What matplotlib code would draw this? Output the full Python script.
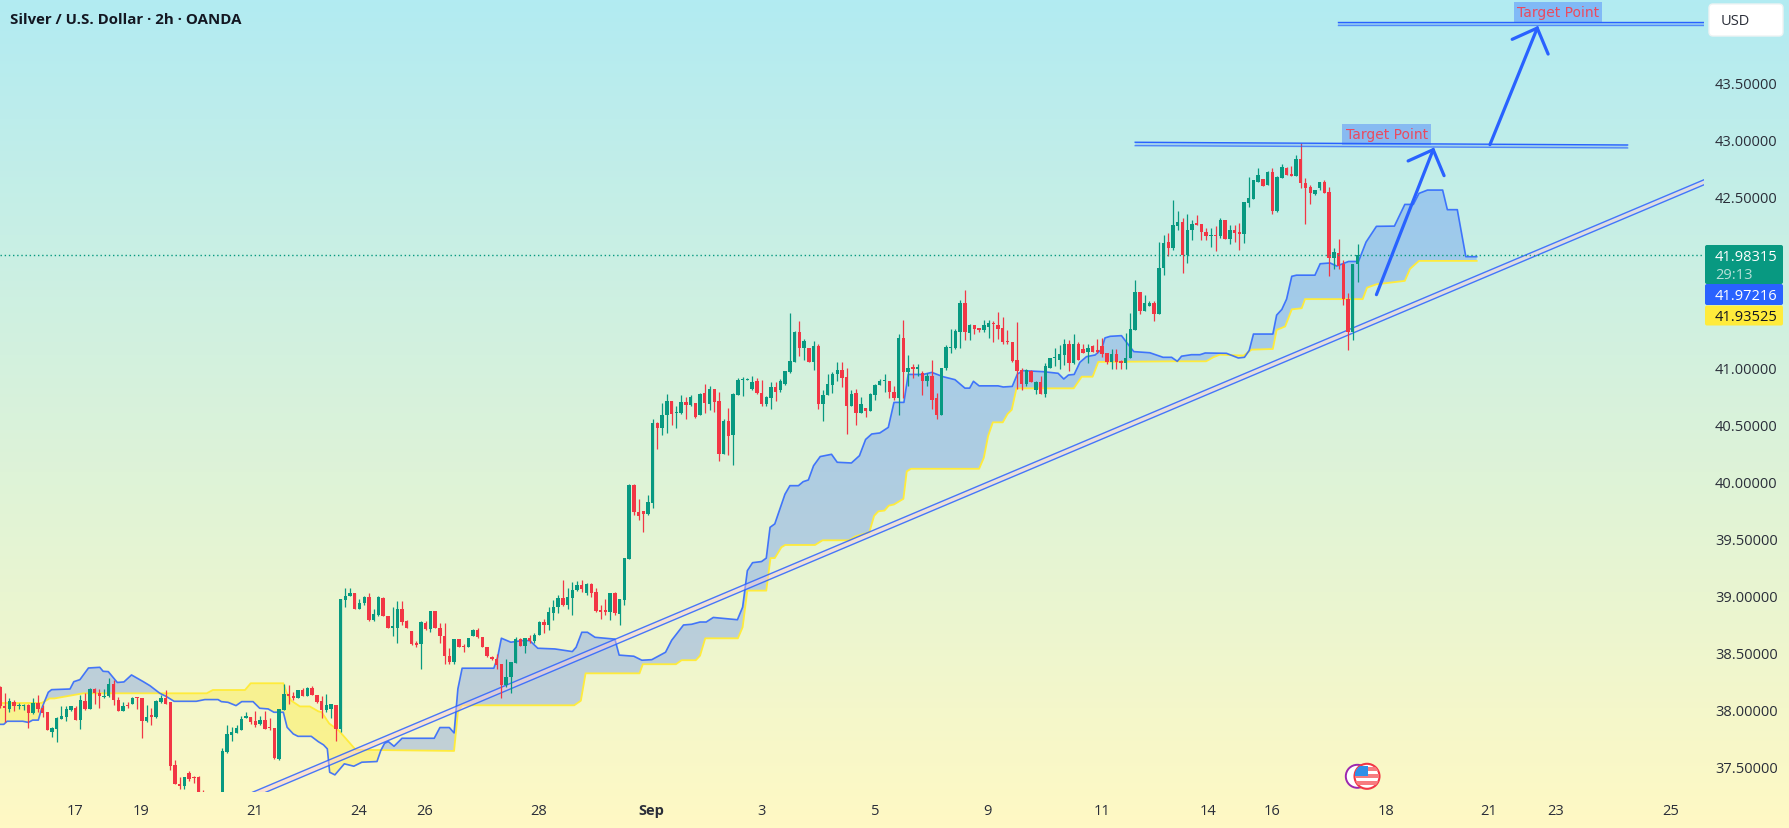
import numpy as np
import matplotlib
matplotlib.use('Agg')
import matplotlib.pyplot as plt
from matplotlib.patches import Circle, FancyBboxPatch, Rectangle

plt.rcParams['font.family'] = ['Open Sans', 'DejaVu Sans']

# 2h candles, one entry per bar
opens = [
    38.20, 38.03, 38.01, 38.07, 38.03, 38.03, 38.04, 37.97, 38.06, 38.02,
    37.98, 37.81, 37.83, 37.92, 37.94, 38.00, 38.02, 37.91, 38.08, 38.01,
    38.18, 38.15, 38.11, 38.12, 38.23, 38.09, 37.99, 38.04, 38.05, 38.11,
    38.10, 37.90, 37.95, 37.94, 38.07, 38.10, 38.07, 37.52, 37.35, 37.33,
    37.45, 37.41, 37.41, 37.24, 37.15, 37.10, 37.12, 37.10, 37.63, 37.78,
    37.80, 37.82, 37.93, 37.94, 37.90, 37.88, 37.91, 37.85, 37.84, 37.57,
    38.00, 38.14, 38.12, 38.10, 38.17, 38.12, 38.19, 38.13, 38.08, 38.00,
    38.01, 38.04, 37.83, 38.96, 39.00, 39.02, 38.88, 38.94, 38.99, 38.79,
    38.83, 38.98, 38.82, 38.72, 38.72, 38.88, 38.78, 38.69, 38.59, 38.58,
    38.76, 38.71, 38.87, 38.72, 38.65, 38.47, 38.42, 38.62, 38.56, 38.55,
    38.65, 38.70, 38.64, 38.55, 38.46, 38.45, 38.40, 38.22, 38.29, 38.41,
    38.62, 38.56, 38.63, 38.60, 38.66, 38.77, 38.74, 38.85, 38.90, 38.98,
    38.92, 38.98, 39.05, 39.09, 39.02, 39.10, 39.03, 38.87, 38.87, 38.86,
    39.02, 38.84, 38.96, 39.32, 39.97, 39.73, 39.74, 39.72, 39.81, 40.51,
    40.47, 40.58, 40.71, 40.60, 40.60, 40.70, 40.67, 40.69, 40.58, 40.78,
    40.68, 40.81, 40.71, 40.24, 40.53, 40.41, 40.76, 40.89, 40.89, 40.81,
    40.88, 40.78, 40.68, 40.73, 40.83, 40.80, 40.86, 40.96, 41.05, 41.31,
    41.17, 41.17, 41.05, 41.19, 40.68, 40.76, 40.85, 40.94, 40.98, 40.92,
    40.66, 40.78, 40.60, 40.65, 40.62, 40.76, 40.85, 40.88, 40.88, 40.79,
    40.73, 41.26, 40.96, 41.00, 40.99, 40.95, 40.88, 40.93, 40.73, 40.58,
    41.00, 41.17, 41.17, 41.31, 41.57, 41.30, 41.37, 41.34, 41.33, 41.36,
    41.39, 41.37, 41.35, 41.23, 41.22, 41.07, 40.98, 40.86, 40.97, 40.80,
    40.87, 40.77, 41.00, 41.08, 41.07, 41.11, 41.21, 41.04, 41.21, 41.16,
    41.14, 41.19, 41.15, 41.19, 41.13, 41.05, 41.12, 41.05, 41.04, 41.08,
    41.33, 41.66, 41.50, 41.54, 41.57, 41.47, 41.87, 42.10, 42.05, 42.24,
    42.28, 41.99, 42.21, 42.26, 42.26, 42.19, 42.15, 42.16, 42.15, 42.29,
    42.13, 42.21, 42.18, 42.17, 42.44, 42.48, 42.63, 42.65, 42.60, 42.71,
    42.37, 42.66, 42.75, 42.69, 42.68, 42.83, 42.62, 42.58, 42.52, 42.57,
    42.63, 42.54, 41.96, 42.00, 41.91, 41.60, 41.31, 41.91,
]
highs = [
    38.21, 38.15, 38.10, 38.09, 38.06, 38.05, 38.05, 38.10, 38.13, 38.04,
    37.98, 37.85, 37.94, 38.03, 38.03, 38.03, 38.03, 38.13, 38.15, 38.19,
    38.19, 38.18, 38.18, 38.28, 38.26, 38.11, 38.07, 38.07, 38.11, 38.11,
    38.10, 38.04, 38.02, 38.09, 38.13, 38.17, 38.07, 37.56, 37.41, 37.41,
    37.46, 37.42, 37.42, 37.30, 37.22, 37.18, 37.20, 37.67, 37.87, 37.85,
    37.87, 37.95, 37.98, 37.94, 37.99, 37.95, 37.99, 37.93, 37.84, 38.01,
    38.23, 38.22, 38.16, 38.17, 38.19, 38.20, 38.21, 38.13, 38.12, 38.14,
    38.05, 38.04, 38.97, 39.07, 39.07, 39.02, 38.97, 39.00, 39.02, 38.88,
    39.00, 38.99, 38.82, 38.90, 38.95, 38.95, 38.79, 38.69, 38.60, 38.78,
    38.78, 38.87, 38.87, 38.76, 38.76, 38.54, 38.62, 38.62, 38.58, 38.63,
    38.71, 38.72, 38.64, 38.55, 38.47, 38.49, 38.40, 38.45, 38.42, 38.64,
    38.63, 38.63, 38.66, 38.67, 38.78, 38.80, 38.90, 38.96, 39.01, 39.14,
    39.07, 39.12, 39.13, 39.14, 39.11, 39.11, 39.07, 38.92, 38.97, 39.02,
    39.03, 38.97, 39.33, 39.98, 39.98, 39.85, 39.74, 39.88, 40.55, 40.52,
    40.69, 40.77, 40.71, 40.66, 40.76, 40.74, 40.76, 40.69, 40.78, 40.86,
    40.84, 40.81, 40.79, 40.55, 40.65, 40.78, 40.91, 40.92, 40.91, 40.93,
    40.91, 40.89, 40.75, 40.87, 40.87, 40.90, 40.97, 41.48, 41.32, 41.41,
    41.25, 41.17, 41.23, 41.21, 40.80, 40.94, 40.96, 41.05, 41.05, 41.00,
    40.80, 40.81, 40.74, 40.65, 40.78, 40.86, 40.90, 40.94, 40.88, 40.84,
    41.29, 41.42, 41.11, 41.03, 41.03, 40.97, 40.95, 41.07, 40.78, 41.00,
    41.20, 41.34, 41.34, 41.59, 41.68, 41.38, 41.37, 41.35, 41.42, 41.42,
    41.41, 41.49, 41.44, 41.33, 41.22, 41.40, 41.00, 40.99, 40.98, 40.88,
    40.93, 41.04, 41.08, 41.17, 41.20, 41.25, 41.24, 41.29, 41.22, 41.21,
    41.21, 41.20, 41.25, 41.26, 41.13, 41.16, 41.16, 41.07, 41.30, 41.48,
    41.77, 41.66, 41.64, 41.58, 41.58, 42.10, 42.16, 42.18, 42.47, 42.37,
    42.31, 42.35, 42.29, 42.34, 42.26, 42.22, 42.22, 42.24, 42.31, 42.29,
    42.25, 42.25, 42.27, 42.45, 42.67, 42.64, 42.75, 42.65, 42.72, 42.75,
    42.68, 42.78, 42.76, 42.77, 42.86, 42.97, 42.66, 42.60, 42.56, 42.63,
    42.64, 42.58, 42.05, 42.13, 41.94, 41.65, 41.91, 42.08,
]
lows = [
    38.02, 37.89, 37.98, 37.99, 38.01, 38.00, 37.84, 37.96, 37.98, 37.94,
    37.82, 37.76, 37.72, 37.92, 37.90, 37.99, 37.91, 37.83, 38.00, 38.01,
    38.05, 38.02, 38.10, 38.11, 38.04, 37.99, 37.99, 38.02, 38.05, 38.01,
    37.75, 37.89, 37.87, 37.93, 38.06, 38.05, 37.47, 37.35, 37.31, 37.31,
    37.38, 37.36, 37.20, 37.10, 37.05, 37.02, 37.05, 37.10, 37.62, 37.73,
    37.80, 37.82, 37.93, 37.88, 37.85, 37.87, 37.83, 37.82, 37.57, 37.56,
    38.00, 38.05, 38.09, 38.10, 38.12, 38.12, 38.13, 38.06, 37.93, 37.98,
    37.93, 37.73, 37.81, 38.90, 39.00, 38.88, 38.88, 38.92, 38.78, 38.78,
    38.82, 38.82, 38.72, 38.65, 38.59, 38.74, 38.72, 38.57, 38.55, 38.36,
    38.70, 38.68, 38.72, 38.59, 38.40, 38.40, 38.40, 38.55, 38.51, 38.55,
    38.65, 38.63, 38.55, 38.46, 38.44, 38.36, 38.10, 38.20, 38.15, 38.41,
    38.56, 38.50, 38.59, 38.59, 38.66, 38.67, 38.70, 38.79, 38.85, 38.91,
    38.88, 38.83, 39.04, 39.03, 39.01, 38.99, 38.86, 38.80, 38.83, 38.79,
    38.83, 38.74, 38.92, 39.32, 39.71, 39.66, 39.56, 39.71, 39.77, 40.29,
    40.41, 40.43, 40.50, 40.47, 40.59, 40.55, 40.66, 40.56, 40.58, 40.60,
    40.63, 40.61, 40.18, 40.24, 40.23, 40.15, 40.76, 40.75, 40.89, 40.80,
    40.77, 40.66, 40.66, 40.64, 40.71, 40.79, 40.85, 40.95, 41.05, 41.10,
    41.07, 41.05, 40.98, 40.64, 40.53, 40.76, 40.78, 40.88, 40.83, 40.42,
    40.66, 40.50, 40.60, 40.57, 40.62, 40.72, 40.85, 40.79, 40.73, 40.72,
    40.58, 40.73, 40.84, 40.91, 40.93, 40.76, 40.84, 40.64, 40.55, 40.58,
    40.98, 41.13, 41.16, 41.17, 41.24, 41.24, 41.29, 41.31, 41.31, 41.26,
    41.22, 41.25, 41.21, 41.21, 41.05, 40.81, 40.80, 40.84, 40.87, 40.77,
    40.77, 40.74, 41.00, 41.01, 40.99, 41.02, 40.97, 41.03, 41.07, 41.13,
    41.04, 41.14, 41.13, 41.09, 41.03, 40.99, 40.99, 40.99, 40.99, 41.08,
    41.33, 41.47, 41.50, 41.54, 41.41, 41.47, 41.81, 41.98, 42.03, 42.21,
    41.83, 41.92, 42.12, 42.25, 42.12, 42.12, 42.06, 42.02, 42.14, 42.13,
    42.08, 42.10, 42.03, 42.09, 42.41, 42.48, 42.63, 42.59, 42.60, 42.35,
    42.36, 42.66, 42.69, 42.68, 42.68, 42.57, 42.26, 42.43, 42.51, 42.56,
    42.53, 41.80, 41.86, 41.86, 41.55, 41.15, 41.24, 41.75,
]
closes = [
    38.03, 38.02, 38.08, 38.03, 38.04, 38.04, 37.97, 38.06, 38.01, 37.97,
    37.82, 37.84, 37.93, 37.95, 38.01, 38.03, 37.91, 38.09, 38.01, 38.18,
    38.15, 38.12, 38.12, 38.23, 38.09, 37.99, 38.03, 38.03, 38.10, 38.10,
    37.90, 37.94, 37.94, 38.08, 38.10, 38.05, 37.51, 37.35, 37.33, 37.41,
    37.39, 37.40, 37.20, 37.15, 37.10, 37.12, 37.10, 37.64, 37.79, 37.81,
    37.84, 37.92, 37.94, 37.89, 37.87, 37.91, 37.83, 37.84, 37.58, 38.01,
    38.14, 38.12, 38.10, 38.17, 38.12, 38.19, 38.13, 38.07, 38.00, 38.04,
    38.05, 37.83, 38.97, 39.00, 39.02, 38.88, 38.94, 38.99, 38.79, 38.84,
    38.99, 38.82, 38.72, 38.73, 38.88, 38.77, 38.72, 38.58, 38.57, 38.77,
    38.71, 38.87, 38.72, 38.65, 38.47, 38.42, 38.62, 38.55, 38.55, 38.63,
    38.70, 38.64, 38.55, 38.47, 38.45, 38.39, 38.22, 38.29, 38.42, 38.62,
    38.56, 38.63, 38.60, 38.66, 38.77, 38.74, 38.86, 38.90, 38.98, 38.92,
    38.99, 39.05, 39.09, 39.06, 39.10, 39.02, 38.87, 38.86, 38.86, 39.02,
    38.85, 38.97, 39.33, 39.97, 39.73, 39.70, 39.72, 39.82, 40.51, 40.47,
    40.58, 40.71, 40.59, 40.61, 40.70, 40.67, 40.74, 40.57, 40.77, 40.69,
    40.81, 40.70, 40.24, 40.53, 40.40, 40.77, 40.89, 40.90, 40.90, 40.87,
    40.78, 40.68, 40.74, 40.83, 40.79, 40.88, 40.97, 41.06, 41.31, 41.17,
    41.23, 41.05, 41.19, 40.68, 40.76, 40.86, 40.94, 40.98, 40.91, 40.66,
    40.77, 40.60, 40.68, 40.62, 40.77, 40.85, 40.88, 40.88, 40.79, 40.73,
    41.26, 40.96, 41.00, 40.99, 41.00, 40.88, 40.93, 40.72, 40.58, 41.00,
    41.18, 41.18, 41.32, 41.57, 41.31, 41.37, 41.34, 41.33, 41.37, 41.39,
    41.38, 41.34, 41.22, 41.22, 41.06, 40.97, 40.86, 40.98, 40.87, 40.87,
    40.77, 41.01, 41.08, 41.08, 41.12, 41.21, 41.04, 41.21, 41.07, 41.13,
    41.17, 41.14, 41.14, 41.12, 41.05, 41.12, 41.05, 41.04, 41.08, 41.34,
    41.66, 41.50, 41.57, 41.57, 41.47, 41.87, 42.09, 42.05, 42.25, 42.28,
    41.99, 42.21, 42.26, 42.25, 42.19, 42.15, 42.16, 42.15, 42.29, 42.13,
    42.21, 42.18, 42.17, 42.45, 42.49, 42.64, 42.69, 42.59, 42.71, 42.37,
    42.67, 42.76, 42.69, 42.68, 42.83, 42.62, 42.57, 42.53, 42.56, 42.63,
    42.53, 41.96, 42.01, 41.89, 41.60, 41.31, 41.91, 41.98315,
]

# ichimoku cloud spans, (bar, price) vertices
span_a_x = [
    0, 0.8, 1.5, 4.8, 6, 6.9, 8.1, 8.8, 10.2, 10.9, 14.8, 15.6, 16.9, 18.7, 21.1,
    21.8, 22.9, 24.8, 26.2, 27.8, 30.3, 31.7, 33.8, 35.2, 36.8, 41.5, 43.3, 46.1,
    46.8, 48.2, 49.9, 51.1, 53.5, 54.9, 56.7, 57.9, 59.9, 60.7, 62, 63, 65.8, 67.3,
    68.4, 69.2, 69.7, 70.8, 72.8, 74.8, 76.5, 79.7, 80.5, 81.3, 82.1, 83.3, 85,
    91.8, 93, 95, 96, 96.8, 97.7, 104.4, 105.2, 106, 108, 110.4, 112, 113.7, 117.3,
    121, 121.8, 123, 124.2, 125.8, 130, 130.9, 134, 135.7, 137.8, 140.7, 142, 144.5,
    146.2, 148, 149.3, 150.8, 155.9, 157, 157.5, 158, 159.1, 161, 162, 162.8, 163.8,
    165.95, 167, 168.8, 169.8, 170.9, 172, 173.4, 175.8, 177, 180, 181.7, 183, 184.3,
    186, 187.8, 189, 191.1, 192, 195.2, 197, 199.4, 201.9, 204, 205, 205.8, 207, 211,
    212.1, 214, 215.1, 216.3, 220.6, 223.7, 224.9, 225.9, 227.1, 228.3, 229.7, 231.5,
    232.9, 233.6, 234.7, 237.1, 238.2, 239.7, 243.1, 245.9, 247.7, 248.9, 249.8, 251.9,
    253.7, 254.8, 259.3, 261.8, 263.1, 264.1, 265, 269.1, 269.9, 271, 272, 273.1, 274.1,
    278, 279.1, 281.2, 282.6, 285.1, 287.2, 288.8, 291, 294.8, 297, 298.8, 300, 301.8,
    305, 306, 308.1, 309.9, 312.2,
]
span_a_y = [
    37.873, 37.873, 37.90, 37.90, 37.89, 37.91, 37.91, 38.01, 38.154, 38.177, 38.183,
    38.247, 38.265, 38.367, 38.373, 38.338, 38.335, 38.24, 38.245, 38.306, 38.247,
    38.212, 38.145, 38.116, 38.075, 38.075, 38.09, 38.09, 38.072, 38.066, 38.037,
    38.072, 38.072, 38.014, 38.008, 37.979, 37.979, 37.847, 37.789, 37.768, 37.768,
    37.721, 37.693, 37.658, 37.453, 37.43, 37.527, 37.506, 37.541, 37.547, 37.643,
    37.707, 37.722, 37.681, 37.751, 37.751, 37.845, 37.845, 37.798, 38.184, 38.365,
    38.365, 38.461, 38.628, 38.593, 38.607, 38.607, 38.54, 38.534, 38.511, 38.549,
    38.68, 38.68, 38.636, 38.62, 38.48, 38.47, 38.435, 38.44, 38.505, 38.61, 38.744,
    38.75, 38.77, 38.77, 38.81, 38.79, 38.90, 39.06, 39.22, 39.29, 39.30, 39.33, 39.6,
    39.63, 39.89, 39.965, 39.965, 40.0, 40.015, 40.14, 40.22, 40.24, 40.17, 40.164,
    40.228, 40.37, 40.418, 40.427, 40.476, 40.695, 40.695, 40.94, 40.94, 40.958, 40.92,
    40.894, 40.82, 40.82, 40.88, 40.84, 40.84, 40.83, 40.835, 40.944, 40.973, 40.964,
    40.95, 40.90, 40.935, 40.94, 41.046, 41.096, 41.11, 41.16, 41.26, 41.274, 41.28,
    41.22, 41.14, 41.13, 41.09, 41.09, 41.055, 41.10, 41.113, 41.113, 41.128, 41.125,
    41.084, 41.09, 41.15, 41.294, 41.294, 41.46, 41.51, 41.60, 41.80, 41.81, 41.81,
    41.91, 41.917, 41.89, 41.93, 41.93, 42.10, 42.238, 42.24, 42.43, 42.43, 42.527,
    42.556, 42.556, 42.384, 42.384, 41.97216, 41.97216,
]
span_b_x = [
    0, 8.8, 10.5, 11.5, 17.6, 43.7, 45, 51.8, 53, 59.9, 60.6, 61.6, 63.4, 65.5, 67.3,
    68, 69.6, 71.6, 75.2, 96, 96.8, 97.7, 121.4, 122.8, 123.8, 135.2, 135.9, 142.9,
    144.1, 147.1, 148, 149.1, 156, 157, 158, 162, 162.9, 163.8, 165.2, 166, 172.3,
    173.9, 179.5, 180.8, 183.8, 184.8, 185.7, 187, 187.9, 189, 191, 191.7, 192.6, 207,
    208, 208.9, 209.9, 212, 213, 213.9, 214.9, 227, 228.7, 231, 232.2, 248.8, 255,
    256.5, 257.9, 262.9, 264.6, 269.1, 269.9, 271.7, 273.1, 275.2, 275.9, 288.1, 289,
    291, 297, 298.1, 300, 312.2,
]
span_b_y = [
    38.06, 38.06, 38.10, 38.10, 38.145, 38.145, 38.174, 38.174, 38.233, 38.233, 38.15,
    38.08, 38.03, 38.03, 37.987, 37.98, 37.88, 37.82, 37.65, 37.64, 37.98, 38.04, 38.04,
    38.08, 38.32, 38.32, 38.40, 38.40, 38.435, 38.435, 38.475, 38.627, 38.627, 38.724,
    39.045, 39.045, 39.33, 39.33, 39.425, 39.445, 39.445, 39.486, 39.486, 39.52, 39.557,
    39.70, 39.74, 39.747, 39.79, 39.80, 39.85, 40.09, 40.113, 40.113, 40.21, 40.40,
    40.52, 40.52, 40.593, 40.63, 40.818, 40.818, 40.92, 40.92, 41.05, 41.055, 41.055,
    41.09, 41.113, 41.105, 41.157, 41.163, 41.33, 41.36, 41.51, 41.52, 41.60, 41.60,
    41.70, 41.73, 41.76, 41.865, 41.93525, 41.93525,
]

# hand drawn annotations, (bar, price)
trend_upper_x = [53.4, 360.3]
trend_upper_y = [37.278, 42.647]
trend_lower_x = [56.2, 360.3]
trend_lower_y = [37.278, 42.603]
target1_x = [240, 344.1]
target1_upper = [42.975, 42.951]
target1_lower = [42.945, 42.925]
target2_x = [282.9, 360.2]
target2_upper = [44.026, 44.026]
target2_lower = [44.003, 44.003]
arrow1_shaft = ([291.0, 303.0], [41.639, 42.91])
arrow1_head = ([297.7, 303.0, 305.3], [42.811, 42.91, 42.682])
arrow2_shaft = ([315.0, 325.0], [42.954, 43.976])
arrow2_head = ([319.7, 325.0, 327.3], [43.877, 43.976, 43.748])

last_price = 41.98315
y_ticks = [37.5, 38.0, 38.5, 39.0, 39.5, 40.0, 40.5, 41.0, 41.5, 42.0, 42.5, 43.0, 43.5]
x_tick_pos = [15.9, 29.9, 53.8, 75.9, 89.8, 113.9, 137.7, 160.9, 185, 208.7, 233, 255.5,
              269, 293, 314.8, 328.8, 353.2]
x_tick_labels = ['17', '19', '21', '24', '26', '28', 'Sep', '3', '5', '9', '11', '14',
                 '16', '18', '21', '23', '25']

GREEN = '#089981'
RED = '#f23645'
BLUE = '#2962ff'
YELLOW = '#ffeb3b'
TEXT = '#2a2e39'

W, H = 1789, 829
fig = plt.figure(figsize=(W / 100, H / 100), dpi=100)

# page background, cyan fading to pale yellow
bg = fig.add_axes([0, 0, 1, 1], zorder=0)
grad = np.linspace(0, 1, 256).reshape(-1, 1, 1)
top = np.array([178, 235, 242]) / 255
bottom = np.array([255, 249, 196]) / 255
bg.imshow(top + (bottom - top) * grad, aspect='auto', extent=[0, 1, 0, 1])
bg.axis('off')

ax = fig.add_axes([0, 36 / H, 1704 / W, 793 / H], zorder=1)
ax.patch.set_alpha(0)
ax.set_xlim(0, 1704 / 4.73)
ax.set_ylim(37.280, 44.2305)

# cloud
grid = np.union1d(span_a_x, span_b_x)
a = np.interp(grid, span_a_x, span_a_y)
b = np.interp(grid, span_b_x, span_b_y)
ax.fill_between(grid, a, b, where=a >= b, interpolate=True, color=BLUE, alpha=0.26, lw=0, zorder=2)
ax.fill_between(grid, a, b, where=a <= b, interpolate=True, color=YELLOW, alpha=0.4, lw=0, zorder=2)
ax.plot(span_b_x, span_b_y, color=YELLOW, lw=1.3, zorder=3)
ax.plot(span_a_x, span_a_y, color=BLUE, lw=1.2, alpha=0.85, zorder=3)

# trend channel under the candles
band_x = trend_upper_x + trend_lower_x[::-1]
band_y = trend_upper_y + trend_lower_y[::-1]
ax.fill(band_x, band_y, color='#ffc9de', alpha=0.45, lw=0, zorder=3.5)
ax.plot(trend_upper_x, trend_upper_y, color=BLUE, lw=1.0, alpha=0.85, zorder=3.6)
ax.plot(trend_lower_x, trend_lower_y, color=BLUE, lw=1.0, alpha=0.85, zorder=3.6)

# candles
bars = np.arange(len(opens))
o = np.array(opens)
h = np.array(highs)
l = np.array(lows)
c = np.array(closes)
colors = [GREEN if cc >= oo else RED for oo, cc in zip(o, c)]
ax.vlines(bars, l, h, colors=colors, lw=0.9, zorder=4)
ax.bar(bars, np.maximum(np.abs(c - o), 0.014), bottom=np.minimum(o, c), width=0.72,
       color=colors, lw=0, zorder=5)

ax.axhline(last_price, color=GREEN, lw=1, ls=(0, (1, 2)), zorder=6)

# target levels
for xs, up, lo in [(target1_x, target1_upper, target1_lower), (target2_x, target2_upper, target2_lower)]:
    ax.fill(xs + xs[::-1], up + lo[::-1], color=BLUE, alpha=0.2, lw=0, zorder=6)
    ax.plot(xs, up, color=BLUE, lw=1.0, zorder=6)
    ax.plot(xs, lo, color=BLUE, lw=1.0, alpha=0.7, zorder=6)

for (sx, sy), (hx, hy) in [(arrow1_shaft, arrow1_head), (arrow2_shaft, arrow2_head)]:
    ax.plot(sx, sy, color=BLUE, lw=2.3, solid_capstyle='round', zorder=7)
    ax.plot(hx, hy, color=BLUE, lw=2.3, solid_capstyle='round', solid_joinstyle='miter', zorder=7)

for tx, ty in [(293.2, 43.043), (329.4, 44.117)]:
    ax.text(tx, ty, 'Target Point', color='#ea4a5f', fontsize=10, family='DejaVu Sans', ha='center', va='center', zorder=8,
            bbox=dict(facecolor=BLUE, alpha=0.36, edgecolor='none', pad=2.4))

# axes
ax.yaxis.tick_right()
ax.set_yticks(y_ticks)
ax.set_yticklabels(['%.5f' % t for t in y_ticks])
ax.set_xticks(x_tick_pos)
ax.set_xticklabels(x_tick_labels)
ax.tick_params(length=0, labelsize=10.5, labelcolor=TEXT)
ax.tick_params(axis='y', pad=8)
ax.tick_params(axis='x', pad=8)
ax.get_xticklabels()[6].set_fontweight('bold')
for s in ax.spines.values():
    s.set_visible(False)

# interface overlay in figure pixels
ov = fig.add_axes([0, 0, 1, 1], zorder=2)
ov.set_xlim(0, W)
ov.set_ylim(H, 0)
ov.axis('off')

ov.text(10, 20, 'Silver / U.S. Dollar · 2h · OANDA', fontsize=10.8, fontweight='bold',
        color='#131722', va='center')

ov.add_patch(FancyBboxPatch((1711, 7), 70, 28, boxstyle='round,pad=2,rounding_size=4',
                            fc='white', ec='#eef3f3', lw=1))
ov.text(1721, 21, 'USD', fontsize=10.5, color=TEXT, va='center')

for y0, y1, col in [(247, 284, GREEN), (286, 305, BLUE), (307.5, 325.5, YELLOW)]:
    ov.add_patch(FancyBboxPatch((1706, y0), 76, y1 - y0, boxstyle='round,pad=1,rounding_size=2',
                                fc=col, ec='none'))
ov.text(1715, 257, '41.98315', fontsize=10.5, color='white', va='center')
ov.text(1715, 275.5, '29:13', fontsize=10.5, color='#b8e0d8', va='center')
ov.text(1715, 296, '41.97216', fontsize=10.5, color='white', va='center')
ov.text(1715, 317, '41.93525', fontsize=10.5, color='#131722', va='center')

# event markers near the time axis
ov.add_patch(Circle((1357.3, 777.3), 11.5, fc='white', ec='#9c27b0', lw=1.4))
flag = Circle((1367, 777.3), 12.5, fc='white', ec=RED, lw=1.5)
ov.add_patch(flag)
for yy in [768, 775, 782]:
    stripe = Rectangle((1355, yy), 24, 3.6, fc='#f77c80', ec='none')
    ov.add_patch(stripe)
    stripe.set_clip_path(flag)
canton = Rectangle((1355, 767), 13, 10, fc='#2f8fe8', ec='none')
ov.add_patch(canton)
canton.set_clip_path(flag)

fig.savefig('out.png', dpi=100)
